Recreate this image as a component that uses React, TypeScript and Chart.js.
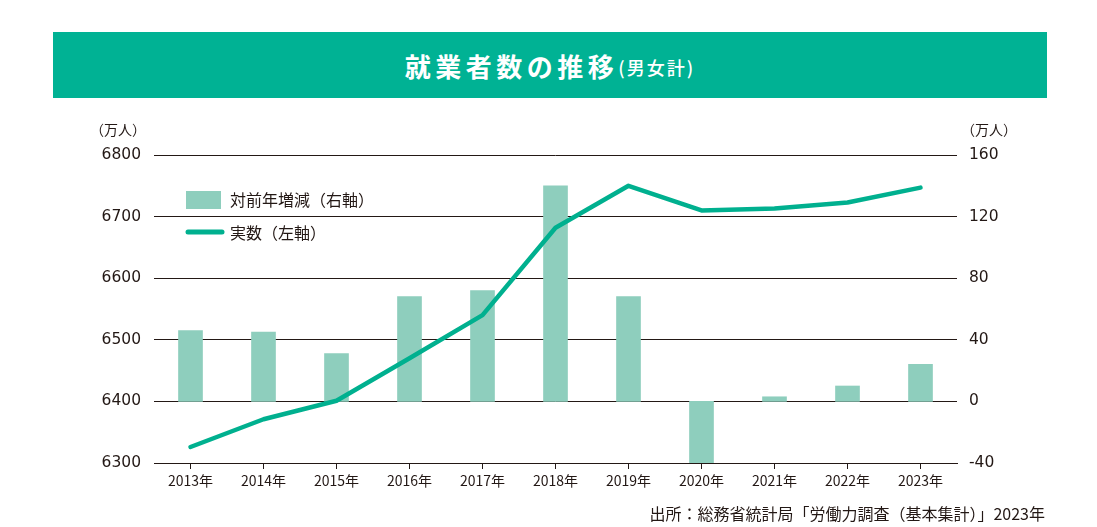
import React, { useEffect, useRef } from 'react';
import { Chart, registerables } from 'chart.js';

Chart.register(...registerables);

// Employment totals (10k persons) and year-on-year change
const years = ['2013年', '2014年', '2015年', '2016年', '2017年', '2018年', '2019年', '2020年', '2021年', '2022年', '2023年'];
const employed = [6326, 6371, 6401, 6470, 6540, 6682, 6750, 6710, 6713, 6723, 6747];
const yoyChange = [46, 45, 31, 68, 72, 140, 68, -40, 3, 10, 24];
const leftTickValues = [6300, 6400, 6500, 6600, 6700, 6800];
const rightTickValues = [-40, 0, 40, 80, 120, 160];

const INK = '#231815';
const TEAL = '#00b294';
const LINE = '#00b08f';
const BAR = '#8ecebd';
const JP = '"Noto Sans CJK JP", sans-serif';
const NUM = '"DejaVu Sans", "Noto Sans CJK JP", sans-serif';

// Legend drawn inside the plot, top-left
const insetLegend = {
  id: 'insetLegend',
  afterDatasetsDraw(chart: any) {
    const { ctx, chartArea } = chart;
    const barSet = chart.data.datasets[1];
    const lineSet = chart.data.datasets[0];
    const sx = chartArea.left + 32;
    const tx = chartArea.left + 76;
    ctx.save();
    ctx.fillStyle = barSet.backgroundColor;
    ctx.fillRect(sx, chartArea.top + 36, 35, 18);
    ctx.strokeStyle = lineSet.borderColor;
    ctx.lineWidth = 5;
    ctx.lineCap = 'round';
    ctx.beginPath();
    ctx.moveTo(sx + 2, chartArea.top + 77);
    ctx.lineTo(sx + 36, chartArea.top + 77);
    ctx.stroke();
    ctx.fillStyle = INK;
    ctx.font = `16px ${JP}`;
    ctx.textBaseline = 'middle';
    ctx.textAlign = 'left';
    ctx.fillText(barSet.label, tx, chartArea.top + 45);
    ctx.fillText(lineSet.label, tx, chartArea.top + 78);
    ctx.restore();
  },
};

const plainNumber = (v: any) => String(v);

export default function App() {
  const canvasRef = useRef<HTMLCanvasElement | null>(null);

  useEffect(() => {
    if (!canvasRef.current) return;
    const chart = new Chart(canvasRef.current, {
      type: 'bar',
      data: {
        labels: years,
        datasets: [
          {
            type: 'line',
            label: '実数（左軸）',
            data: employed,
            yAxisID: 'yL',
            borderColor: LINE,
            backgroundColor: LINE,
            borderWidth: 4.5,
            pointRadius: 0,
            tension: 0,
            borderCapStyle: 'round',
            borderJoinStyle: 'round',
            order: 0,
          } as any,
          {
            type: 'bar',
            label: '対前年増減（右軸）',
            data: yoyChange,
            yAxisID: 'yR',
            backgroundColor: BAR,
            barThickness: 24,
            order: 1,
          },
        ],
      },
      options: {
        animation: false,
        responsive: false,
        maintainAspectRatio: false,
        layout: { padding: { top: 155, left: 0, right: 0, bottom: 0 } },
        plugins: {
          legend: { display: false },
          title: { display: false },
          tooltip: { enabled: false },
        },
        scales: {
          x: {
            offset: true,
            grid: { offset: false, drawOnChartArea: false, drawTicks: true, tickLength: 6, color: INK, lineWidth: 1 },
            border: { display: true, color: INK, width: 1 },
            ticks: { color: INK, font: { family: '"Liberation Sans Narrow", "Noto Sans CJK JP", sans-serif', size: 14 }, padding: 3, maxRotation: 0 },
            afterFit: (s: any) => { s.height = 64; },
          },
          yL: {
            position: 'left',
            min: 6300,
            max: 6800,
            afterBuildTicks: (s: any) => { s.ticks = leftTickValues.map((v) => ({ value: v })); },
            grid: { color: INK, lineWidth: 1, drawTicks: false },
            border: { display: false },
            ticks: { color: INK, font: { family: NUM, size: 15.5 }, padding: 13, callback: plainNumber },
            afterFit: (s: any) => { s.width = 154; },
          },
          yR: {
            position: 'right',
            min: -40,
            max: 160,
            afterBuildTicks: (s: any) => { s.ticks = rightTickValues.map((v) => ({ value: v })); },
            grid: { display: false, drawTicks: false },
            border: { display: false },
            ticks: { color: INK, font: { family: NUM, size: 15.5 }, padding: 12, callback: plainNumber },
            afterFit: (s: any) => { s.width = 140; },
          },
        },
      } as any,
      plugins: [insetLegend],
    });
    return () => chart.destroy();
  }, []);

  const unitStyle: React.CSSProperties = {
    position: 'absolute',
    top: 120,
    fontFamily: JP,
    fontSize: 14,
    lineHeight: '19px',
    color: INK,
    whiteSpace: 'nowrap',
  };

  return (
    <div style={{ position: 'absolute', left: 0, top: 0, width: 1097, height: 527, background: '#fff', overflow: 'hidden' }}>
      <div
        style={{
          position: 'absolute',
          left: 53,
          top: 32,
          width: 994,
          height: 66,
          background: TEAL,
          color: '#fff',
          fontFamily: JP,
          display: 'flex',
          alignItems: 'center',
          justifyContent: 'center',
          whiteSpace: 'nowrap',
        }}
      >
        <span style={{ fontSize: 26, fontWeight: 700, letterSpacing: 4.5 }}>就業者数の推移</span>
        <span style={{ fontSize: 18, fontWeight: 500, letterSpacing: 2, marginTop: 3 }}>(男女計)</span>
      </div>
      <canvas ref={canvasRef} width={1097} height={527} style={{ position: 'absolute', left: 0, top: 0 }} />
      <div style={{ ...unitStyle, left: 90 }}>（万人）</div>
      <div style={{ ...unitStyle, left: 961 }}>（万人）</div>
      <div
        style={{
          position: 'absolute',
          right: 52,
          top: 502,
          fontFamily: JP,
          fontSize: 16,
          lineHeight: '22px',
          color: INK,
          whiteSpace: 'nowrap',
        }}
      >
        出所：総務省統計局「労働力調査（基本集計）」2023年
      </div>
    </div>
  );
}
